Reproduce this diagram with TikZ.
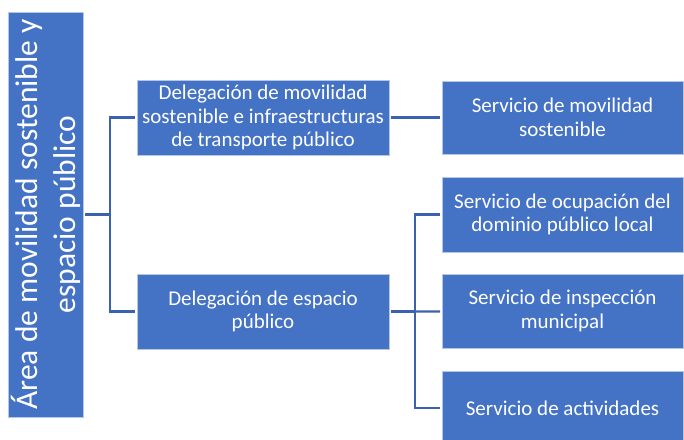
\documentclass[tikz,border=0pt]{standalone}
\usepackage{fontspec}
\setmainfont{Carlito}
\usepackage{tikz}

\definecolor{boxblue}{HTML}{4472C4}
\definecolor{lineblue}{HTML}{3A62AE}

\begin{document}
\begin{tikzpicture}[x=1pt, y=-1pt]
        \tikzset{boxes/.style={draw=white!60!boxblue, fill=boxblue, text=white, line width=0.6pt,
                               align=center, inner sep=0pt, outer sep=2pt,
                               font=\fontsize{21}{23.5}\selectfont},
                 links/.style={draw=lineblue, line width=2.3pt}}
        \useasboundingbox (0,0) rectangle (684,439);
        \node [boxes, rotate=90, minimum width=405, minimum height=75,
               font=\fontsize{31.5}{38}\selectfont] (area) at (45.5,214.5)
              {Área de movilidad sostenible y\\espacio público};
        \node [boxes, minimum width=252, minimum height=75] (deleg1) at (263,117.5)
              {Delegación de movilidad\\sostenible e infraestructuras\\de transporte público};
        \node [boxes, minimum width=252, minimum height=75] (deleg2) at (263,311.5)
              {Delegación de espacio\\público};
        \node [boxes, minimum width=241, minimum height=73] (serv1) at (562.5,117.5)
              {Servicio de movilidad\\sostenible};
        \node [boxes, minimum width=241, minimum height=75] (serv2) at (562.5,214.5)
              {Servicio de ocupación del\\dominio público local};
        \node [boxes, minimum width=241, minimum height=74] (serv3) at (562.5,311)
              {Servicio de inspección\\municipal};
        \node [boxes, minimum width=241, minimum height=74] (serv4) at (562.5,408)
              {Servicio de actividades};
        \coordinate (fork1) at (110,214.5);
        \coordinate (fork2) at (415,311.5);
        \draw [links] (area) -- (fork1) |- (deleg1);
        \draw [links] (fork1) |- (deleg2);
        \draw [links] (deleg1) -- (serv1);
        \draw [links] (deleg2) -- (fork2) |- (serv2);
        \draw [links] (fork2) -- (serv3);
        \draw [links] (fork2) |- (serv4);
    \end{tikzpicture}
\end{document}
